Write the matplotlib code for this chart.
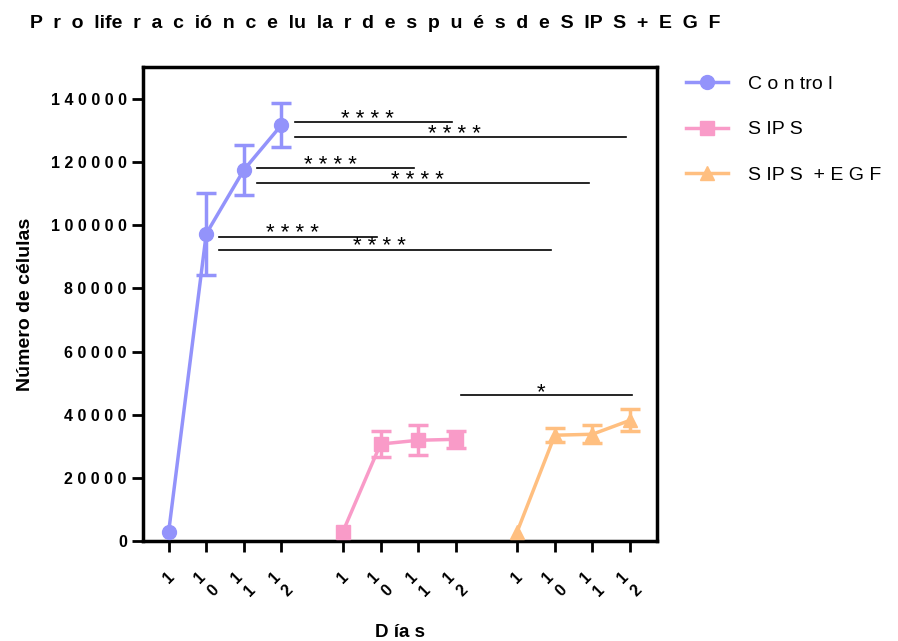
import numpy as np
import matplotlib.pyplot as plt
from matplotlib.lines import Line2D

plt.rcParams['font.family'] = ['Liberation Sans', 'DejaVu Sans']

# data
dias = ['1', '10', '11', '12']
control = [3000, 97300, 117500, 131700]
control_err = [0, 13000, 8000, 6900]
sips = [3000, 30700, 31900, 32200]
sips_err = [0, 4100, 4700, 2700]
sips_egf = [3000, 33500, 33800, 38200]
sips_egf_err = [0, 2200, 2900, 3500]
series_names = ['C o n tro l', 'S IP S', 'S IP S  + E G F']

# comparisons: (group, day index) -> (group, day index), y level, label
comparaciones = [
    ((0, 3), (1, 3), 132600, '* * * *'),
    ((0, 3), (2, 3), 127900, '* * * *'),
    ((0, 2), (1, 2), 118100, '* * * *'),
    ((0, 2), (2, 2), 113400, '* * * *'),
    ((0, 1), (1, 1), 96400, '* * * *'),
    ((0, 1), (2, 1), 92300, '* * * *'),
    ((1, 3), (2, 3), 46100, '*'),
]

colors = ['#9393fb', '#f99bc8', '#ffbf80']
markers = ['o', 's', '^']
group_gap = 4.64

fig = plt.figure(figsize=(8.98, 6.41), dpi=100)
ax = fig.add_axes([0.159, 0.156, 0.573, 0.739])

all_vals = [control, sips, sips_egf]
all_errs = [control_err, sips_err, sips_egf_err]
handles = []
tick_pos = []
tick_lab = []
for g in range(3):
    xs = np.arange(len(dias)) + g * group_gap
    vals = np.array(all_vals[g])
    errs = np.array(all_errs[g])
    tick_pos += list(xs)
    tick_lab += ['\n'.join(d) for d in dias]
    ax.plot(xs, vals, color=colors[g], marker=markers[g], markersize=10, lw=2.5,
            clip_on=False, zorder=3)
    m = errs > 0
    ax.errorbar(xs[m], vals[m], yerr=errs[m], fmt='none', ecolor=colors[g],
                elinewidth=2.5, capsize=7, capthick=2.5, clip_on=False, zorder=3)
    handles.append(Line2D([], [], color=colors[g], marker=markers[g], markersize=10,
                          lw=2.5, label=series_names[g]))

def xpos(gd):
    return gd[1] + gd[0] * group_gap

for a, b, y, lab in comparaciones:
    x0 = xpos(a) + 0.35
    x1 = xpos(b) - 0.1
    if a[0] == 1:
        x0 = xpos(a) + 0.15
        x1 = xpos(b) + 0.05
    ax.plot([x0, x1], [y, y], color='black', lw=1.2)
    ax.annotate(lab, xy=((x0 + x1) / 2 - 0.15, y), xytext=(0, -2), textcoords='offset points',
                ha='center', va='baseline', fontsize=16)

ax.set_xlim(-0.69, 13.01)
ax.set_ylim(0, 150000)
ax.set_yticks(np.arange(0, 140001, 20000))
ax.set_yticklabels([' '.join(str(v)) for v in range(0, 140001, 20000)],
                   fontsize=11.5, fontweight='bold')
ax.set_xticks(tick_pos)
ax.set_xticklabels(tick_lab, rotation=45, ha='center', va='top',
                   fontsize=11.5, fontweight='bold', linespacing=1.3)

for s in ax.spines.values():
    s.set_linewidth(2.5)
ax.tick_params(axis='both', width=2, length=8, direction='out')
ax.tick_params(axis='x', pad=12)

ax.set_ylabel('Número de células', fontsize=14, fontweight='bold', labelpad=12)
ax.set_xlabel('D ía s', fontsize=13.5, fontweight='bold', labelpad=18)
titulo = 'P r o life r a c ió n c e lu la r d e s p u é s d e S IP S + E G F'
fig.text(0.033, 0.963, titulo.replace(' ', '  '),
         fontsize=14, fontweight='bold', ha='left', va='center')

leg = ax.legend(handles=handles, loc='upper left', bbox_to_anchor=(1.04, 1.0), frameon=False,
                fontsize=14, handlelength=2.2, handletextpad=1.0, labelspacing=1.45,
                borderaxespad=0)

fig.savefig('out.png', dpi=100)
